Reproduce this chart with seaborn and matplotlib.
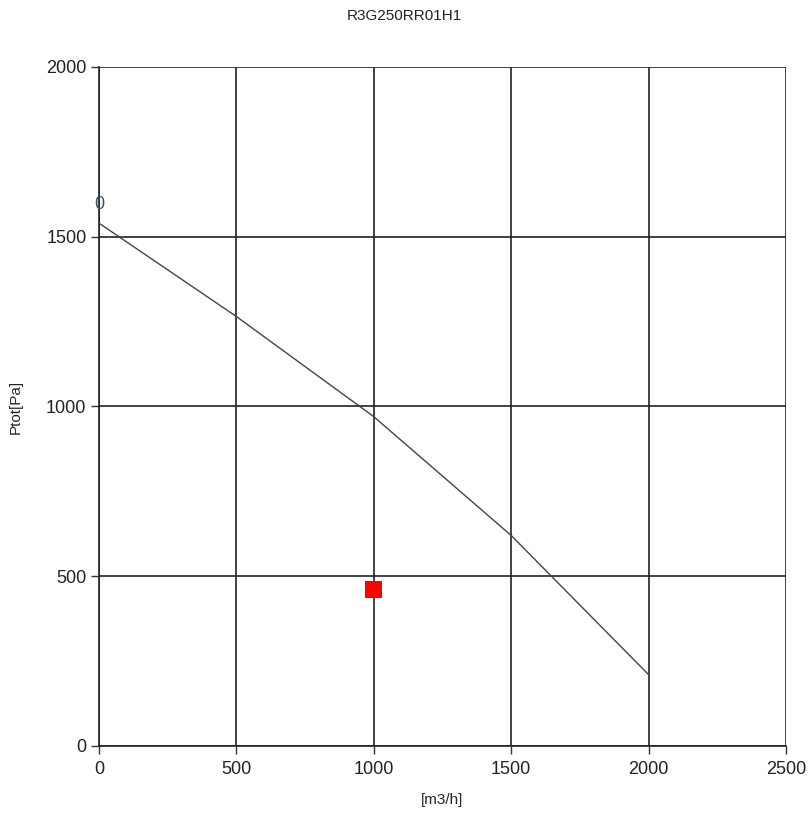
import matplotlib
matplotlib.use("Agg")
import matplotlib.pyplot as plt
import seaborn as sns
import pandas as pd

# Fan characteristic curve (volume flow vs. total pressure)
flow = [0, 500, 1000, 1500, 2000]
ptot = [1540, 1265, 970, 620, 210]

# Operating point
op_flow = [1000]
op_ptot = [460]

curve_label = "0"
title = "R3G250RR01H1"
x_ticks = [0, 500, 1000, 1500, 2000, 2500]
y_ticks = [0, 500, 1000, 1500, 2000]

sns.set_style("white")
plt.rcParams["font.family"] = ["Liberation Sans", "DejaVu Sans"]

fig = plt.figure(figsize=(8.08, 8.15), dpi=100)
ax = fig.add_axes([0.1225, 0.0847, 0.8503, 0.8331])

curve = pd.DataFrame({"flow": flow, "ptot": ptot})
point = pd.DataFrame({"flow": op_flow, "ptot": op_ptot})

sns.lineplot(data=curve, x="flow", y="ptot", ax=ax, color="#444444",
             linewidth=1.0, zorder=3)
sns.scatterplot(data=point, x="flow", y="ptot", ax=ax, marker="s", s=150,
                color="#ff0000", edgecolor="none", zorder=4)

ax.text(flow[0], ptot[0] + 30, curve_label, fontsize=13, color="#405060",
        ha="center", va="bottom")

ax.set_xlim(x_ticks[0], x_ticks[-1])
ax.set_ylim(y_ticks[0], y_ticks[-1])
ax.set_xticks(x_ticks)
ax.set_yticks(y_ticks)
ax.grid(True, color="#222222", linewidth=1.2)
ax.set_axisbelow(True)

for side in ["top", "right"]:
    ax.spines[side].set_visible(False)
for side in ["left", "bottom"]:
    ax.spines[side].set_color("#222222")
    ax.spines[side].set_linewidth(1.2)

ax.tick_params(axis="both", which="major", length=6, width=1.0,
               color="#333333", labelsize=13, labelcolor="#222222",
               direction="out", left=True, bottom=True, pad=3)
ax.tick_params(axis="x", pad=5)

ax.set_xlabel("[m3/h]", fontsize=11, va="top")
ax.xaxis.set_label_coords(0.5, -0.0692)
ax.set_ylabel("Ptot[Pa]", fontsize=11)
ax.yaxis.set_label_coords(-0.1106, 0.5)
fig.text(0.501, 0.980, title, fontsize=11, ha="center", va="center",
         color="#222222")

fig.savefig("out.png", dpi=100, facecolor="white")
